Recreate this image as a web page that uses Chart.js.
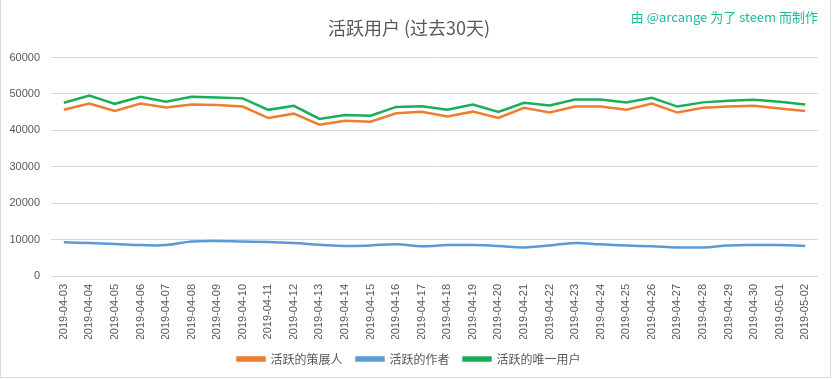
<!DOCTYPE html>
<html>
<head>
<meta charset="utf-8">
<script src="https://cdn.jsdelivr.net/npm/chart.js@4/dist/chart.umd.min.js"></script>
<style>
html,body{margin:0;padding:0;background:#fff;}
#wrap{width:833px;height:379px;position:relative;}
</style>
</head>
<body>
<div id="wrap"><canvas id="c" width="833" height="379"></canvas></div>
<script>
const categories = ["2019-04-03","2019-04-04","2019-04-05","2019-04-06","2019-04-07","2019-04-08","2019-04-09","2019-04-10","2019-04-11","2019-04-12","2019-04-13","2019-04-14","2019-04-15","2019-04-16","2019-04-17","2019-04-18","2019-04-19","2019-04-20","2019-04-21","2019-04-22","2019-04-23","2019-04-24","2019-04-25","2019-04-26","2019-04-27","2019-04-28","2019-04-29","2019-04-30","2019-05-01","2019-05-02"];
const activeCurators = [45650,47400,45350,47400,46300,47100,46950,46550,43400,44600,41550,42650,42400,44700,45150,43800,45150,43400,46200,44900,46550,46550,45650,47400,44900,46200,46550,46750,46000,45350];
const activeAuthors = [9250,9050,8800,8500,8500,9450,9600,9450,9350,9050,8600,8250,8400,8700,8150,8500,8500,8250,7850,8400,9050,8700,8400,8150,7850,7850,8400,8500,8500,8250];
const activeUnique = [47600,49600,47300,49250,47850,49250,49050,48800,45650,46750,43150,44250,44050,46450,46650,45650,47100,45100,47600,46850,48500,48500,47700,48950,46550,47700,48150,48400,47850,47100];
const yTicks = [0,10000,20000,30000,40000,50000,60000];
const seriesNames = ["活跃的策展人","活跃的作者","活跃的唯一用户"];
const titleText = "活跃用户 (过去30天)";
const creditText = "由 @arcange 为了 steem 而制作";

const cjk = "'Noto Sans CJK SC', 'Noto Sans', sans-serif";
const num = "'Liberation Sans', Arial, sans-serif";
const grey = "#595959";

const decor = {
  id: 'decor',
  beforeDraw(chart) {
    const ctx = chart.ctx;
    ctx.save();
    ctx.fillStyle = '#fff';
    ctx.fillRect(0, 0, chart.width, chart.height);
    ctx.restore();
  },
  afterDraw(chart) {
    const ctx = chart.ctx;
    ctx.save();
    ctx.strokeStyle = '#d9d9d9';
    ctx.lineWidth = 1;
    ctx.strokeRect(0.5, -0.5, 830, 378);
    ctx.fillStyle = '#1abc9c';
    ctx.font = "13px " + cjk;
    ctx.textAlign = 'right';
    ctx.textBaseline = 'middle';
    ctx.fillText(creditText, 818, 17);
    ctx.restore();
  }
};

new Chart(document.getElementById('c'), {
  type: 'line',
  data: {
    labels: categories,
    datasets: [
      {label: seriesNames[0], data: activeCurators, borderColor: '#ED7D31', backgroundColor: '#ED7D31', borderWidth: 2.5, pointRadius: 0, tension: 0},
      {label: seriesNames[1], data: activeAuthors, borderColor: '#5B9BD5', backgroundColor: '#5B9BD5', borderWidth: 2.5, pointRadius: 0, tension: 0.4},
      {label: seriesNames[2], data: activeUnique, borderColor: '#1AAD5A', backgroundColor: '#1AAD5A', borderWidth: 2.5, pointRadius: 0, tension: 0}
    ]
  },
  options: {
    responsive: false,
    animation: false,
    devicePixelRatio: 1,
    layout: {padding: {left: 0, right: 15, top: 0, bottom: 4}},
    plugins: {
      title: {display: true, text: titleText, color: grey, font: {family: cjk, size: 18, weight: 'normal'}, padding: {top: 17, bottom: 19}},
      legend: {
        position: 'bottom',
        labels: {color: grey, font: {family: cjk, size: 12}, boxWidth: 27, boxHeight: 3, padding: 14}
      },
      tooltip: {enabled: false}
    },
    scales: {
      x: {
        offset: true,
        grid: {display: false, drawTicks: false},
        border: {display: false},
        ticks: {color: grey, font: {family: num, size: 11}, minRotation: 90, maxRotation: 90, padding: 8, autoSkip: false},
        afterFit(s) { s.height = 63; }
      },
      y: {
        min: 0, max: 60000,
        afterBuildTicks(s) { s.ticks = yTicks.map(v => ({value: v})); },
        grid: {color: '#d9d9d9', lineWidth: 1, drawTicks: false},
        border: {display: false},
        ticks: {color: grey, font: {family: num, size: 11}, padding: 11, callback: v => String(v)},
        afterFit(s) { s.width = 51; }
      }
    }
  },
  plugins: [decor]
});
</script>
</body>
</html>
